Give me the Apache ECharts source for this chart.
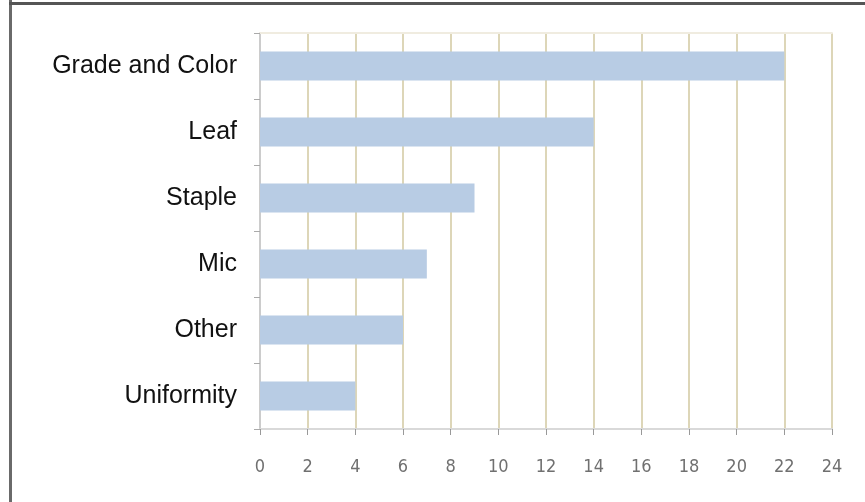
<!DOCTYPE html>
<html>
<head>
<meta charset="utf-8">
<script src="https://cdn.jsdelivr.net/npm/echarts@6/dist/echarts.min.js"></script>
<style>
  html, body { margin: 0; padding: 0; background: #fff; }
  #chart { width: 865px; height: 502px; }
</style>
</head>
<body>
<div id="chart"></div>
<script>
// Categories listed top to bottom
const categories = ['Grade and Color', 'Leaf', 'Staple', 'Mic', 'Other', 'Uniformity'];
const counts = [22, 14, 9, 7, 6, 4];
const xTicks = { min: 0, max: 24, interval: 2 };

const chart = echarts.init(document.getElementById('chart'), null, { renderer: 'canvas' });

chart.setOption({
  animation: false,
  backgroundColor: '#ffffff',
  grid: { left: 260, right: 33, top: 33, bottom: 73 },
  graphic: [
    // frame lines on the left and top edges
    { type: 'rect', shape: { x: 9, y: 0, width: 3, height: 502 }, style: { fill: '#6a6a6a' } },
    { type: 'rect', shape: { x: 9, y: 2, width: 856, height: 3 }, style: { fill: '#555555' } }
  ],
  xAxis: [{
    type: 'value',
    min: xTicks.min,
    max: xTicks.max,
    interval: xTicks.interval,
    axisLine: { show: true, lineStyle: { color: '#d9d9d9', width: 2 } },
    axisTick: { show: true, length: 6, lineStyle: { color: '#999999' } },
    axisLabel: {
      margin: 29,
      color: '#707070',
      fontSize: 18,
      fontFamily: '"Liberation Sans Narrow", "DejaVu Sans Condensed", sans-serif'
    },
    splitLine: { show: true, lineStyle: { color: '#ddd6b8', width: 2 } }
  }, {
    type: 'value',
    position: 'top',
    min: xTicks.min,
    max: xTicks.max,
    axisLine: { show: true, lineStyle: { color: '#f0ece0', width: 2 } },
    axisTick: { show: false },
    axisLabel: { show: false },
    splitLine: { show: false }
  }],
  yAxis: {
    type: 'category',
    data: categories,
    inverse: true,
    axisLine: { show: true, lineStyle: { color: '#cccccc', width: 2 } },
    axisTick: { show: true, length: 6, lineStyle: { color: '#aaaaaa' } },
    axisLabel: {
      margin: 23,
      color: '#111111',
      fontSize: 25,
      padding: [5, 0, 0, 0],
      fontFamily: '"Liberation Sans", Arial, sans-serif'
    }
  },
  series: [{
    type: 'bar',
    data: counts,
    barWidth: 29,
    itemStyle: { color: '#b8cce4' }
  }]
});
</script>
</body>
</html>
